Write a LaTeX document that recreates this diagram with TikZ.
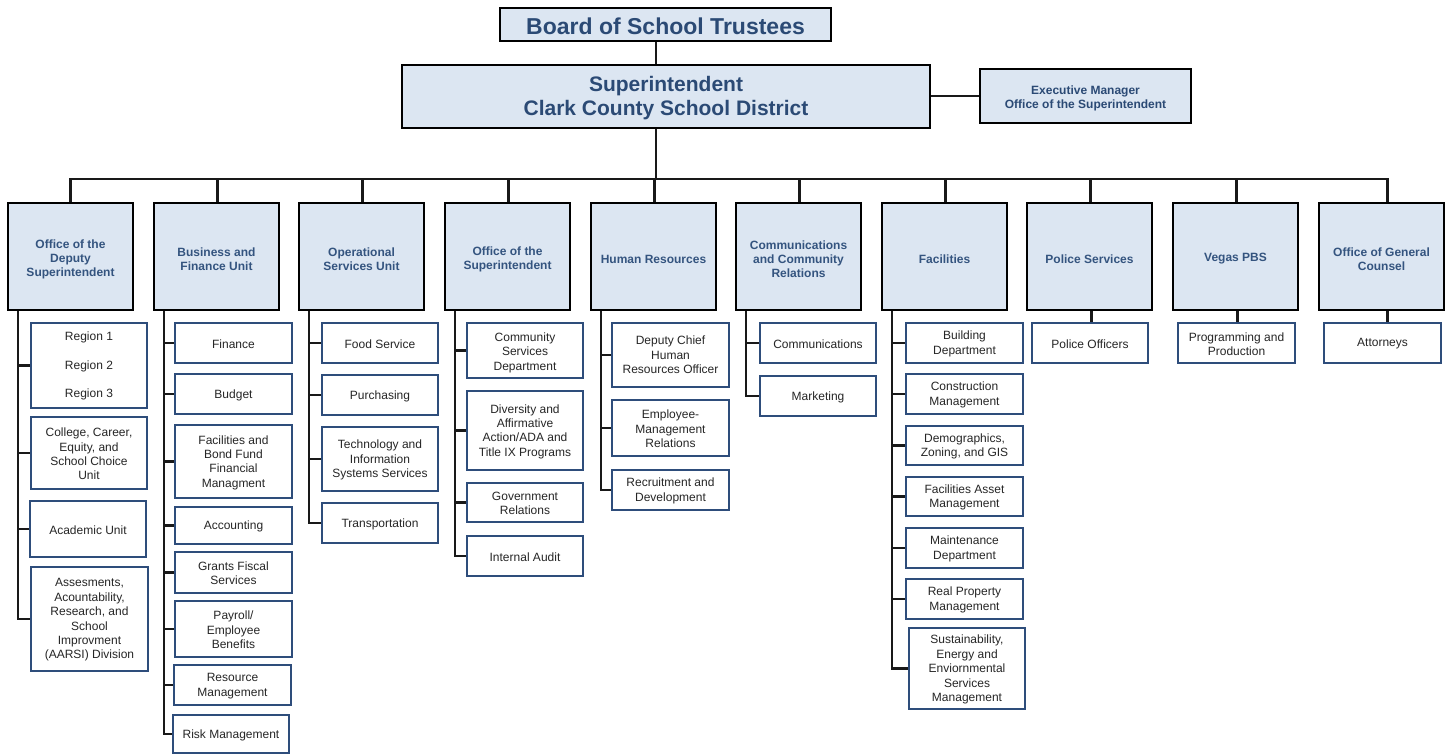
\documentclass[tikz,border=0pt]{standalone}
\usepackage{fontspec}
\setmainfont{Liberation Sans}
\definecolor{hdrfill}{HTML}{DCE6F2}
\definecolor{hdrtext}{HTML}{2B4A75}
\definecolor{toptext}{HTML}{34547F}
\definecolor{subline}{HTML}{2E4D7B}
\definecolor{subtext}{HTML}{262626}
% #1 text shift (down), #2 style, #3 name, #4..#7 box corners, #8 text
\newcommand\placebox[8][1]{%
  \node[#2, minimum width={#6-#4}, minimum height={#7-#5}] (#3) at ({(#4+#6)/2},{(#5+#7)/2}) {};
  \node[#2, draw=none, fill=none, minimum width=0pt, minimum height=0pt] at ([yshift=-#1pt]#3.center) {#8};}
\begin{document}
\begin{tikzpicture}[x=1pt,y=-1pt,
  hdr/.style={draw=black, line width=2.6pt, fill=hdrfill, text=hdrtext, font=\bfseries, align=center, inner sep=0pt},
  topbox/.style={draw=black, line width=2.6pt, fill=hdrfill, text=toptext, font=\fontsize{12}{14}\selectfont\bfseries, align=center, inner sep=0pt},
  subbox/.style={draw=subline, line width=2.6pt, fill=white, text=subtext, font=\fontsize{12}{14.4}\selectfont, align=center, inner sep=0pt},
  conn/.style={draw=black!90, line width=2.4pt}]
\useasboundingbox (0,0) rectangle (1450,754);
% header
\placebox[2]{hdr, font=\fontsize{23}{27}\selectfont\bfseries}{board}{500}{8}{831}{41}{Board of School Trustees}
\placebox[2]{hdr, font=\fontsize{21}{24}\selectfont\bfseries}{super}{402}{65}{930}{128}{Superintendent\\Clark County School District}
\placebox[2]{hdr, font=\fontsize{12}{14}\selectfont\bfseries}{exec}{980}{69}{1191}{123}{Executive Manager\\Office of the Superintendent}
% top row
\placebox[2.5]{topbox}{t1}{8}{203}{133}{310}{Office of the\\Deputy\\Superintendent}
\placebox[2.5]{topbox}{t2}{154}{203}{279}{310}{Business and\\Finance Unit}
\placebox[2.5]{topbox}{t3}{299}{203}{424}{310}{Operational\\Services Unit}
\placebox[2.5]{topbox}{t4}{445}{203}{570}{310}{Office of the\\Superintendent}
\placebox[2.5]{topbox}{t5}{591}{203}{716}{310}{Human Resources}
\placebox[2.5]{topbox}{t6}{736}{203}{861}{310}{Communications\\and Community\\Relations}
\placebox[2.5]{topbox}{t7}{882}{203}{1007}{310}{Facilities}
\placebox[2.5]{topbox}{t8}{1027}{203}{1152}{310}{Police Services}
\placebox[2.5]{topbox}{t9}{1173}{203}{1298}{310}{Vegas PBS}
\placebox[2.5]{topbox}{t10}{1319}{203}{1444}{310}{Office of General\\Counsel}
% column 1
\placebox[0.5]{subbox}{a1}{31}{323}{147}{408}{Region 1\\[14pt]Region 2\\[14pt]Region 3}
\placebox{subbox}{a2}{31}{417}{147}{489}{College, Career,\\Equity, and\\School Choice\\Unit}
\placebox{subbox}{a3}{30}{501}{146}{557}{Academic Unit}
\placebox{subbox}{a4}{31}{567}{148}{671}{Assesments,\\Acountability,\\Research, and\\School\\Improvment\\(AARSI) Division}
% column 2
\placebox{subbox}{b1}{175}{323}{292}{363}{Finance}
\placebox{subbox}{b2}{175}{374}{292}{414}{Budget}
\placebox{subbox}{b3}{175}{425}{292}{498}{Facilities and\\Bond Fund\\Financial\\Managment}
\placebox{subbox}{b4}{175}{507}{292}{544}{Accounting}
\placebox{subbox}{b5}{175}{552}{292}{593}{Grants Fiscal\\Services}
\placebox{subbox}{b6}{175}{601}{292}{657}{Payroll/\\Employee\\Benefits}
\placebox{subbox}{b7}{174}{665}{291}{705}{Resource\\Management}
\placebox{subbox}{b8}{173}{715}{289}{753}{Risk Management}
% column 3
\placebox{subbox}{c1}{322}{323}{438}{363}{Food Service}
\placebox{subbox}{c2}{322}{375}{438}{415}{Purchasing}
\placebox{subbox}{c3}{322}{427}{438}{491}{Technology and\\Information\\Systems Services}
\placebox{subbox}{c4}{322}{503}{438}{543}{Transportation}
% column 4
\placebox[2]{subbox}{d1}{467}{323}{583}{378}{Community\\Services\\Department}
\placebox{subbox}{d2}{467}{391}{583}{470}{Diversity and\\Affirmative\\Action/ADA and\\Title IX Programs}
\placebox{subbox}{d3}{467}{483}{583}{522}{Government\\Relations}
\placebox{subbox}{d4}{467}{536}{583}{576}{Internal Audit}
% column 5
\placebox[0]{subbox}{e1}{612}{323}{729}{387}{Deputy Chief\\Human\\Resources Officer}
\placebox{subbox}{e2}{612}{400}{729}{456}{Employee-\\Management\\Relations}
\placebox{subbox}{e3}{612}{470}{729}{510}{Recruitment and\\Development}
% column 6
\placebox{subbox}{f1}{760}{323}{876}{363}{Communications}
\placebox{subbox}{f2}{760}{376}{876}{416}{Marketing}
% column 7
\placebox{subbox}{g1}{906}{323}{1023}{363}{Building\\Department}
\placebox{subbox}{g2}{906}{374}{1023}{414}{Construction\\Management}
\placebox{subbox}{g3}{906}{426}{1023}{465}{Demographics,\\Zoning, and GIS}
\placebox{subbox}{g4}{906}{477}{1023}{516}{Facilities Asset\\Management}
\placebox{subbox}{g5}{906}{528}{1023}{568}{Maintenance\\Department}
\placebox{subbox}{g6}{906}{579}{1023}{619}{Real Property\\Management}
\placebox{subbox}{g7}{909}{628}{1025}{709}{Sustainability,\\Energy and\\Enviornmental\\Services\\Management}
% columns 8-10
\placebox{subbox}{h1}{1032}{323}{1148}{363}{Police Officers}
\placebox{subbox}{i1}{1178}{323}{1295}{363}{Programming and\\Production}
\placebox{subbox}{j1}{1324}{323}{1441}{363}{Attorneys}
% connectors
\coordinate (stem) at (656,0);
\coordinate (bus) at (0,179);
\draw[conn] (board.south -| stem) -- (super.north -| stem);
\draw[conn] (super.south -| stem) -- (bus -| stem);
\draw[conn] (exec.west -| super.east) -- (exec.west);
\draw[conn] (t1.north) |- ([xshift=6pt]t10.north |- bus) -- ([xshift=6pt]t10.north);
\foreach \t in {t2,t3,t4,t5,t6,t7,t8,t9}{\draw[conn] ([xshift=1pt]\t.north) -- ([xshift=1pt]\t.north |- bus);}
% spines
\foreach \t/\last/\others in {t1/a4/{a1,a2,a3}, t2/b8/{b1,b2,b3,b4,b5,b6,b7}, t3/c4/{c1,c2,c3}, t4/d4/{d1,d2,d3}, t5/e3/{e1,e2}, t6/f2/{f1}, t7/g7/{g1,g2,g3,g4,g5,g6}}{
  \coordinate (sp) at ([xshift=11pt]\t.south west);
  \draw[conn] (sp) |- (\last.west);
  \foreach \b in \others {\draw[conn] (sp |- \b.west) -- (\b.west);}
}
\draw[conn] ([xshift=2pt]t8.south) -- ([xshift=2pt]t8.south |- h1.north);
\draw[conn] ([xshift=2pt]t9.south) -- ([xshift=2pt]t9.south |- i1.north);
\draw[conn] ([xshift=6pt]t10.south) -- ([xshift=6pt]t10.south |- j1.north);
\end{tikzpicture}
\end{document}
